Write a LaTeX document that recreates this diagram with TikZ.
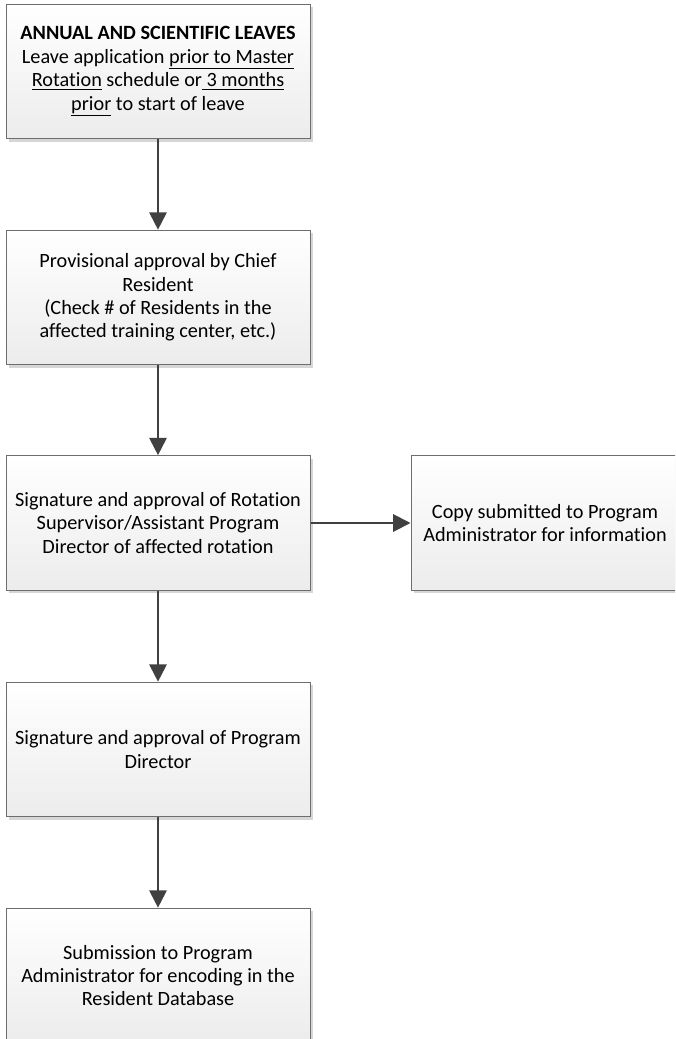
\documentclass[tikz,border=0pt]{standalone}
\usepackage{fontspec}
\setmainfont{Carlito}[Ligatures=NoCommon]
\usetikzlibrary{arrows.meta,positioning,shadows}
\definecolor{boxline}{HTML}{6E6E6E}
\definecolor{arrowgray}{HTML}{404040}
\definecolor{shadowgray}{HTML}{D6D6D6}
\tikzset{
  stepbox/.style={draw=boxline, line width=0.75pt, top color=white, bottom color=gray!15,
    minimum width=228pt, minimum height=101pt, inner sep=0pt, align=center,
    font=\fontsize{15.2}{17.6}\selectfont,
    drop shadow={shadow xshift=2.25pt, shadow yshift=-2.25pt, fill=shadowgray, opacity=1}},
  flow/.style={-{Triangle[length=13pt,width=13pt]}, line width=1.5pt, draw=arrowgray},
}
\begin{document}
\begin{tikzpicture}[x=0.75pt,y=-0.75pt]
    \clip (0,0) rectangle (675,1039);

    % Flow boxes
    \node[stepbox] (leave) at (158,71.5) {\textbf{ANNUAL AND SCIENTIFIC LEAVES}\\
        Leave application \underline{prior to Master}\\
        \underline{Rotation} schedule or\underline{\ 3 months}\\
        \underline{prior} to start of leave};
    \node[stepbox] (chief) at (158,297.5) {Provisional approval by Chief\\Resident\\
        (Check \# of Residents in the\\affected training center, etc.)};
    \node[stepbox] (rotation) at (158,523) {Signature and approval of Rotation\\
        Supervisor/Assistant Program\\Director of affected rotation};
    \node[stepbox, minimum width=201pt] (copy) at (545,523) {Copy submitted to Program\\
        Administrator for information};
    \node[stepbox] (director) at (158,749.5) {Signature and approval of Program\\Director};
    \node[stepbox] (encode) at (158,975.5) {Submission to Program\\
        Administrator for encoding in the\\Resident Database};

    % Connectors
    \draw[flow] (leave) -- (chief);
    \draw[flow] (chief) -- (rotation);
    \draw[flow] (rotation) -- (copy);
    \draw[flow] (rotation) -- (director);
    \draw[flow] (director) -- (encode);
\end{tikzpicture}
\end{document}
